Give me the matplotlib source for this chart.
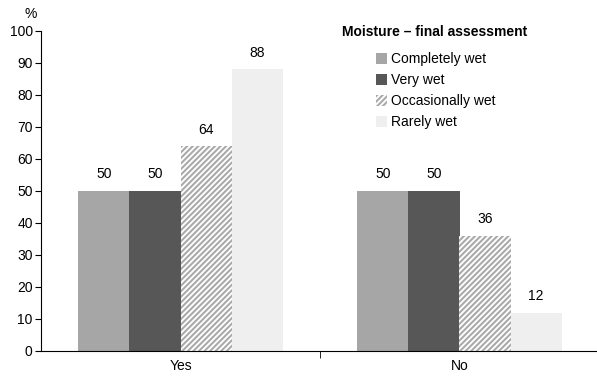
import matplotlib.pyplot as plt
import numpy as np

plt.rcParams['font.family'] = ['Liberation Sans', 'DejaVu Sans']
plt.rcParams['hatch.linewidth'] = 1.5

categories = ['Yes', 'No']
series = ['Completely wet', 'Very wet', 'Occasionally wet', 'Rarely wet']
values = [
    [50, 50],  # Completely wet
    [50, 50],  # Very wet
    [64, 36],  # Occasionally wet
    [88, 12],  # Rarely wet
]

colores = ['#a6a6a6', '#575757', 'white', '#efefef']
hatches = [None, None, '//////', None]

fig = plt.figure(figsize=(5.97, 3.79), dpi=100)
ax = fig.add_axes([41/597, 28/379, 558/597, 320/379])

x = np.arange(len(categories))
w = 0.183
for i, nombre in enumerate(series):
    pos = x + (i - 1.5) * w
    if hatches[i]:
        barras = ax.bar(pos, values[i], w, color=colores[i], edgecolor='#aaaaaa',
                        hatch=hatches[i], linewidth=0, label=nombre)
    else:
        barras = ax.bar(pos, values[i], w, color=colores[i], linewidth=0, label=nombre)
    for b, v in zip(barras, values[i]):
        ax.text(b.get_x() + b.get_width()/2, v + 3, str(v), ha='center', va='bottom',
                fontsize=10)

ax.set_xlim(-0.5, 1.5)
ax.set_ylim(0, 100)
ax.set_yticks(np.arange(0, 101, 10))
ax.set_xticks(x)
ax.set_xticklabels(categories)
ax.tick_params(axis='x', length=0, labelsize=10, pad=6)
ax.set_xticks([0.5], minor=True)
ax.tick_params(axis='x', which='minor', length=5, direction='out')
ax.tick_params(axis='y', length=4, direction='out', labelsize=10, pad=2)
ax.spines['top'].set_visible(False)
ax.spines['right'].set_visible(False)
ax.text(-0.018, 1.03, '%', transform=ax.transAxes, fontsize=10, ha='center', va='bottom')

# titulo de la leyenda aparte
ax.text(0.539, 0.997, 'Moisture \u2013 final assessment', transform=ax.transAxes,
        fontsize=10, fontweight='bold', ha='left', va='center')
leg = ax.legend(loc='upper left', bbox_to_anchor=(0.6, 0.933), frameon=False,
                fontsize=10, borderpad=0, borderaxespad=0,
                handlelength=0.8, handleheight=0.8, handletextpad=0.3,
                labelspacing=0.5)

fig.savefig('out.png', dpi=100)
